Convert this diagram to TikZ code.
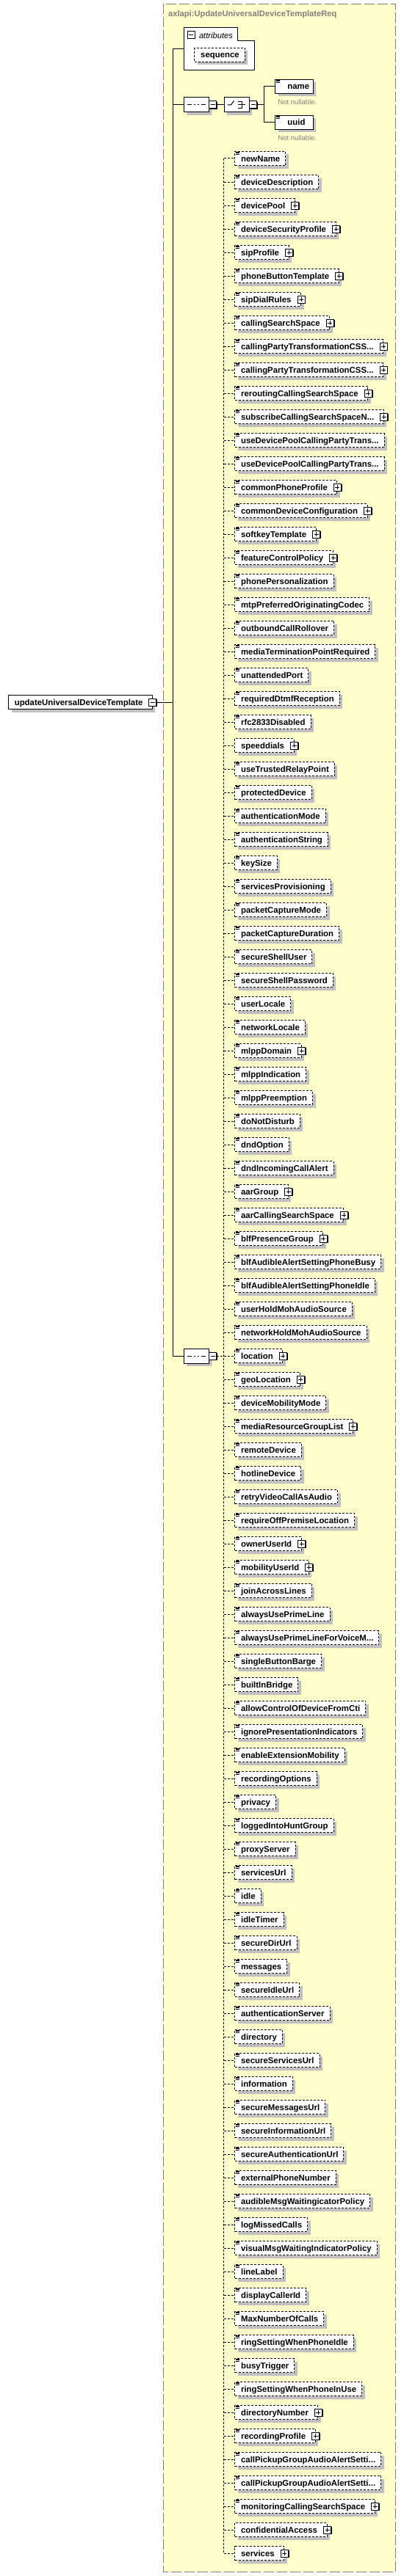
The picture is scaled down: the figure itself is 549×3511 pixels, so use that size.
\documentclass[tikz,border=0pt]{standalone}
\usepackage{fontspec}
\setmainfont{Liberation Sans}
\usetikzlibrary{shadows,shapes.misc}
\definecolor{boxyellow}{RGB}{255,255,204}
\definecolor{shadowgray}{RGB}{192,192,192}
\definecolor{bordergray}{RGB}{128,128,128}
\definecolor{notegray}{RGB}{128,128,128}
\newcommand{\ellip}{...}

\begin{document}
\begin{tikzpicture}[x=1pt, y=-1pt, line width=1pt,
  elem/.style={draw, fill=white, font=\bfseries\fontsize{11.4pt}{13pt}\selectfont,
    inner xsep=0pt, inner ysep=0pt, minimum height=19pt, text height=9pt, text depth=1pt,
    execute at begin node={\hspace*{8.3pt}},
    drop shadow={shadow xshift=4pt, shadow yshift=-4pt, fill=shadowgray, opacity=1}},
  optelem/.style={elem, dash pattern=on 3pt off 2pt},
  reqelem/.style={elem, text width=51.5pt, execute at begin node={\noindent\hspace*{8.3pt}}},
  conn/.style={dash pattern=on 3pt off 2pt},
  note/.style={font=\fontsize{9.4pt}{11pt}\selectfont, text=notegray, inner sep=0pt, anchor=west},
  minusbox/.style={draw, fill=white, minimum size=10pt, inner sep=0pt,
    path picture={\draw (path picture bounding box.center) +(-3,0) -- +(3,0);},
    drop shadow={shadow xshift=1.3pt, shadow yshift=-1.3pt, fill=black, opacity=1}},
  minusflat/.style={draw, fill=white, minimum size=10pt, inner sep=0pt,
    path picture={\draw (path picture bounding box.center) +(-3,0) -- +(3,0);}},
  compositor/.style={chamfered rectangle, chamfered rectangle xsep=5pt, chamfered rectangle ysep=5pt,
    draw, fill=white, minimum width=34pt, minimum height=20pt, inner sep=0pt,
    drop shadow={shadow xshift=4pt, shadow yshift=-4pt, fill=shadowgray, opacity=1}},
  seqsym/.style={path picture={
    \draw (path picture bounding box.center) +(-12.4,0) -- +(12.7,0);
    \foreach \dx in {-4.8,0,4.8}
      \fill (path picture bounding box.center) ++(\dx,0) +(-1.6,-1.6) rectangle +(1.6,1.6);}},
  choicesym/.style={path picture={
    \draw (path picture bounding box.center) ++(-12.6,0) -- ++(4.8,0) -- ++(4.2,-5.5);
    \foreach \dy in {-4.9,0,4.7}
      \fill (path picture bounding box.center) ++(-0.7,\dy) +(-1.3,-1.3) rectangle +(1.3,1.3);
    \draw (path picture bounding box.center) ++(2.2,-4.7) -- ++(5.2,0) -- ++(0,9.4) -- ++(-5.2,0);
    \draw (path picture bounding box.center) ++(2.2,0) -- ++(9.4,0);}},
  linesicon/.pic={\draw[line width=0.7pt] (1.4,1) -- (6.6,1) (1.4,2.8) -- (6.6,2.8) (1.4,4.6) -- (6.6,4.6);},
  plusmark/.pic={\fill[black] (-3.7,-3.7) rectangle (6.3,6.3);
    \filldraw[fill=white, draw=black] (-5,-5) rectangle (5,5);
    \draw (-3,0) -- (3,0) (0,-3) -- (0,3);}]

\useasboundingbox (0,0) rectangle (549,3511);

% complex type frame
\draw[bordergray, fill=boxyellow, dash pattern=on 14pt off 4pt] (222.3,5.3) rectangle (538.5,3505);
\node[anchor=west, inner sep=0pt, text=bordergray, font=\bfseries\fontsize{11.2pt}{13pt}\selectfont] (title) at (228.6,19.5) {axlapi:UpdateUniversalDeviceTemplateReq};

% attributes
\draw[fill=white] (250.4,38) -- (323.2,38) -- (323.2,56) -- (346.6,56) -- (346.6,96) -- (250.4,96) -- cycle;
\node[minusflat] (mattr) at (260.2,48) {};
\node[anchor=west, inner sep=0pt, font=\itshape\fontsize{11.2pt}{13pt}\selectfont] (attrlbl) at (270.5,48) {attributes};
\node[optelem, execute at end node={\hspace*{7.5pt}}, anchor=west] (seqattr) at (264.4,75) {sequence};
\coordinate (attrin) at (250.4,67);

% root element
\node[elem, execute at end node={\hspace*{13pt}}, anchor=west] (main) at (11,957) {updateUniversalDeviceTemplate};
\node[minusbox] (mmain) at (main.east) {};

% trunk
\coordinate (trunktop) at (235.3,67);
\coordinate (trunkmid) at (235.3,957);
\coordinate (trunkA) at (235.3,143);
\coordinate (trunkbot) at (235.3,1848);
\draw (trunktop) -- (trunkbot);
\draw (trunktop) -- (attrin);
\draw (mmain.east) -- (trunkmid);

% name / uuid choice
\node[compositor, seqsym] (seqA) at (267.4,143) {};
\node[minusbox] (mseqA) at (289.8,143) {};
\node[compositor, choicesym] (choiceA) at (322.1,143) {};
\node[minusbox] (mchoiceA) at (344.5,143) {};
\coordinate (fork) at (359.6,143);
\node[reqelem, anchor=west] (name) at (374.3,118) {name};
\node[reqelem, anchor=west] (uuid) at (374.3,167) {uuid};
\pic at (name.north west) {linesicon};
\pic at (uuid.north west) {linesicon};
\node[note] (nnname) at (378.2,139) {Not nullable.};
\node[note] (nnuuid) at (378.2,188) {Not nullable.};
\draw (trunkA) -- (seqA.west);
\draw (mseqA.east) -- (choiceA.west);
\draw (mchoiceA.east) -- (fork);
\draw (name.west) -| (fork) |- (uuid.west);

% optional elements
\node[compositor, seqsym] (seqB) at (267.4,1848) {};
\node[minusbox] (mseqB) at (289.8,1848) {};
\draw (trunkbot) -- (seqB.west);

\foreach \lbl/\k [count=\i] in {newName/0, deviceDescription/0, devicePool/1, deviceSecurityProfile/1,
  sipProfile/1, phoneButtonTemplate/1, sipDialRules/1, callingSearchSpace/1,
  callingPartyTransformationCSS\ellip/1, callingPartyTransformationCSS\ellip/1, reroutingCallingSearchSpace/1,
  subscribeCallingSearchSpaceN\ellip/1, useDevicePoolCallingPartyTrans\ellip/0, useDevicePoolCallingPartyTrans\ellip/0,
  commonPhoneProfile/1, commonDeviceConfiguration/1, softkeyTemplate/1, featureControlPolicy/1,
  phonePersonalization/0, mtpPreferredOriginatingCodec/0, outboundCallRollover/0,
  mediaTerminationPointRequired/0, unattendedPort/0, requiredDtmfReception/0, rfc2833Disabled/0,
  speeddials/2, useTrustedRelayPoint/0, protectedDevice/0, authenticationMode/0, authenticationString/0,
  keySize/0, servicesProvisioning/0, packetCaptureMode/0, packetCaptureDuration/0, secureShellUser/0,
  secureShellPassword/0, userLocale/0, networkLocale/0, mlppDomain/1, mlppIndication/0, mlppPreemption/0,
  doNotDisturb/0, dndOption/0, dndIncomingCallAlert/0, aarGroup/1, aarCallingSearchSpace/1,
  blfPresenceGroup/1, blfAudibleAlertSettingPhoneBusy/0, blfAudibleAlertSettingPhoneIdle/0,
  userHoldMohAudioSource/0, networkHoldMohAudioSource/0, location/1, geoLocation/1, deviceMobilityMode/0,
  mediaResourceGroupList/1, remoteDevice/0, hotlineDevice/0, retryVideoCallAsAudio/0,
  requireOffPremiseLocation/0, ownerUserId/1, mobilityUserId/1, joinAcrossLines/0, alwaysUsePrimeLine/0,
  alwaysUsePrimeLineForVoiceM\ellip/0, singleButtonBarge/0, builtInBridge/0, allowControlOfDeviceFromCti/0,
  ignorePresentationIndicators/0, enableExtensionMobility/0, recordingOptions/0, privacy/0,
  loggedIntoHuntGroup/0, proxyServer/0, servicesUrl/0, idle/0, idleTimer/0, secureDirUrl/0, messages/0,
  secureIdleUrl/0, authenticationServer/0, directory/0, secureServicesUrl/0, information/0,
  secureMessagesUrl/0, secureInformationUrl/0, secureAuthenticationUrl/0, externalPhoneNumber/0,
  audibleMsgWaitingicatorPolicy/0, logMissedCalls/0, visualMsgWaitingIndicatorPolicy/0, lineLabel/0,
  displayCallerId/0, MaxNumberOfCalls/0, ringSettingWhenPhoneIdle/0, busyTrigger/0,
  ringSettingWhenPhoneInUse/0, directoryNumber/1, recordingProfile/1, callPickupGroupAudioAlertSetti\ellip/0,
  callPickupGroupAudioAlertSetti\ellip/0, monitoringCallingSearchSpace/1, confidentialAccess/2, services/2}
{
  \pgfmathsetmacro\padr{\k>0 ? 13 : 7.5}
  \node[optelem, execute at end node={\hspace*{\padr pt}}, anchor=west] (el\i) at (319.3,{216+32*(\i-1)}) {\lbl};
  \coordinate (bus\i) at (304.6,{216+32*(\i-1)});
  \draw[conn] (bus\i) -- (el\i.west);
  \ifnum\k<2 \pic at (el\i.north west) {linesicon}; \fi
  \ifnum\k>0 \pic at (el\i.east) {plusmark}; \fi
}
\draw[conn] (bus1) -- (bus103);
\draw[conn] (mseqB.east) -- (bus52);
\end{tikzpicture}
\end{document}
